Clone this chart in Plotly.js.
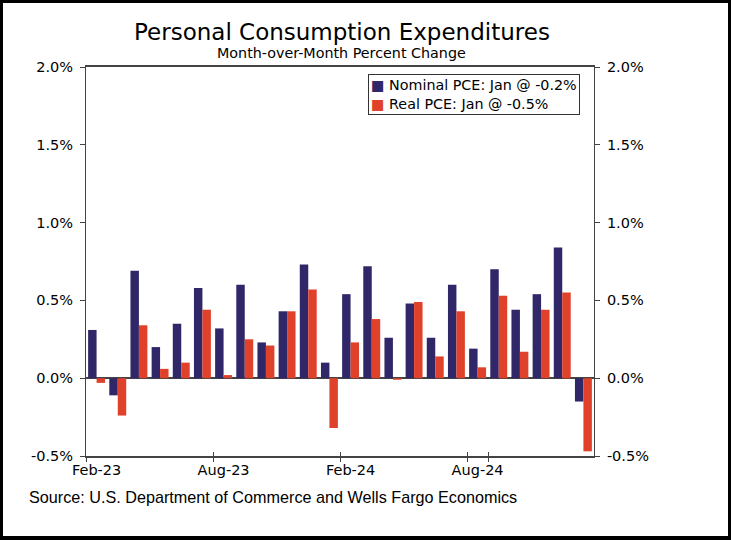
<!DOCTYPE html>
<html>
<head>
<meta charset="utf-8">
<script src="https://cdn.plot.ly/plotly-3.0.1.min.js"></script>
<style>
html,body{margin:0;padding:0;background:#fff;}
#wrap{position:relative;width:731px;height:540px;}
#plot{width:731px;height:540px;}
#frame{position:absolute;left:0;top:0;width:731px;height:540px;box-sizing:border-box;border:3px solid #000;border-bottom-width:4px;pointer-events:none;}
</style>
</head>
<body>
<div id="wrap"><div id="plot"></div><div id="frame"></div></div>
<script>
var months = ["Feb-23","Mar-23","Apr-23","May-23","Jun-23","Jul-23","Aug-23","Sep-23","Oct-23","Nov-23","Dec-23","Jan-24",
              "Feb-24","Mar-24","Apr-24","May-24","Jun-24","Jul-24","Aug-24","Sep-24","Oct-24","Nov-24","Dec-24","Jan-25"];
var nominalPCE = [0.31,-0.11,0.69,0.20,0.35,0.58,0.32,0.60,0.23,0.43,0.73,0.10,
                  0.54,0.72,0.26,0.48,0.26,0.60,0.19,0.70,0.44,0.54,0.84,-0.15];
var realPCE = [-0.03,-0.24,0.34,0.06,0.10,0.44,0.02,0.25,0.21,0.43,0.57,-0.32,
               0.23,0.38,-0.01,0.49,0.14,0.43,0.07,0.53,0.17,0.44,0.55,-0.47];
var seriesNames = ["Nominal PCE: Jan @ -0.2%","Real PCE: Jan @ -0.5%"];
var yTickVals = [-0.5,0,0.5,1.0,1.5,2.0];
var yTickText = ["-0.5%","0.0%","0.5%","1.0%","1.5%","2.0%"];
var xTickVals = ["Feb-23","Aug-23","Feb-24","Aug-24"];

var font = "DejaVu Sans, Verdana, sans-serif";
var axisColor = "#444";
var nomColor = "#2f2768", realColor = "#e0412a";
var traces = [
  {type:"bar", name:seriesNames[0], x:months, y:nominalPCE, marker:{color:nomColor}},
  {type:"bar", name:seriesNames[1], x:months, y:realPCE, marker:{color:realColor}},
  {type:"scatter", x:months, y:nominalPCE, yaxis:"y2", mode:"none", showlegend:false, hoverinfo:"skip"},
  {type:"scatter", x:months, y:nominalPCE, xaxis:"x2", yaxis:"y", mode:"none", showlegend:false, hoverinfo:"skip"}
];
var yBase = {range:[-0.5,2.0], tickvals:yTickVals, ticktext:yTickText, showgrid:false, zeroline:false,
  tickfont:{family:font,size:14.5,color:"#000"}, tickcolor:axisColor, ticklen:5, ticklabelstandoff:4, fixedrange:true};
var xBase = {type:"category", categoryorder:"array", categoryarray:months,
    tickmode:"array", tickvals:xTickVals, ticktext:xTickVals, tickson:"boundaries",
    ticklen:4, tickcolor:axisColor, tickwidth:1, showgrid:false, zeroline:false, range:[-0.5,23.5], tickangle:0,
    tickfont:{family:font,size:14.5,color:"#000"}};
var layout = {
  width:731, height:540,
  margin:{l:86, r:137, t:67, b:84},
  paper_bgcolor:"#fff", plot_bgcolor:"#fff",
  barmode:"group", bargap:0.2, bargroupgap:0,
  showlegend:false,
  xaxis:Object.assign({}, xBase, {ticks:"outside", showline:true, linecolor:axisColor, linewidth:2, mirror:true}),
  xaxis2:Object.assign({}, xBase, {overlaying:"x", anchor:"y", side:"bottom", ticks:"inside", showticklabels:false, showline:false}),
  yaxis:Object.assign({}, yBase, {side:"left", ticks:"outside", showline:true, linecolor:axisColor, linewidth:1,
    zeroline:true, zerolinecolor:axisColor, zerolinewidth:1.5}),
  yaxis2:Object.assign({}, yBase, {side:"right", overlaying:"y", ticks:"outside", showline:true, linecolor:axisColor, linewidth:1}),
  annotations:[
    {text:"Personal Consumption Expenditures", xref:"paper", yref:"paper", x:0.503, y:1.0 + 35/389,
     xanchor:"center", yanchor:"middle", showarrow:false, font:{family:font,size:23,color:"#000"}},
    {text:"Month-over-Month Percent Change", xref:"paper", yref:"paper", x:0.503, y:1.0 + 14/389,
     xanchor:"center", yanchor:"middle", showarrow:false, font:{family:font,size:14.3,color:"#000"}},
    {text:"<span style='color:"+nomColor+"'>■</span> "+seriesNames[0]+"<br><span style='color:"+realColor+"'>■</span> "+seriesNames[1],
     xref:"paper", yref:"paper", x:(368-86)/508, y:1-(74-67)/389, xanchor:"left", yanchor:"top", align:"left",
     showarrow:false, bgcolor:"#fff", bordercolor:"#333", borderwidth:1, borderpad:2,
     font:{family:font,size:14.3,color:"#000"}},
    {text:"Source: U.S. Department of Commerce and Wells Fargo Economics", xref:"paper", yref:"paper",
     x:(27-86)/508, y:-(497-456)/389, xanchor:"left", yanchor:"middle", showarrow:false,
     font:{family:"Liberation Sans, Arial, sans-serif", size:16.2, color:"#000"}}
  ]
};
Plotly.newPlot("plot", traces, layout, {displayModeBar:false, staticPlot:true});
</script>
</body>
</html>
